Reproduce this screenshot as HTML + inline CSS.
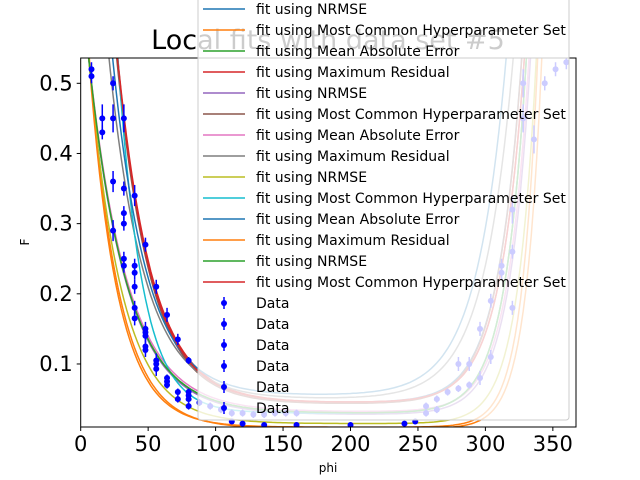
<!DOCTYPE html>
<html><head><meta charset="utf-8"><style>
body{margin:0;background:#fff}
svg{display:block;font-family:"DejaVu Sans","Liberation Sans",sans-serif}
</style></head><body>
<svg id="c" width="640" height="480" xmlns="http://www.w3.org/2000/svg"></svg>
<script>
const xTicks=[0,50,100,150,200,250,300,350];
const yTicks=[0.1,0.2,0.3,0.4,0.5];
const fitLabels=["fit using NRMSE","fit using Most Common Hyperparameter Set","fit using Mean Absolute Error","fit using Maximum Residual","fit using NRMSE","fit using Most Common Hyperparameter Set","fit using Mean Absolute Error","fit using Maximum Residual","fit using NRMSE","fit using Most Common Hyperparameter Set","fit using Mean Absolute Error","fit using Maximum Residual","fit using NRMSE","fit using Most Common Hyperparameter Set"];
const fitFloor=[0.045,0.008,0.03,0.045,0.028,0.043,0.032,0.05,0.015,0.03,0.055,0.01,0.03,0.045];
const fitAmp=[1.06,0.49,0.47,1.05,0.47,1.04,0.47,0.8,0.48,1.5,0.9,0.48,0.47,1.06];
const fitDecay=[25,22,28,25.5,28,25,28.5,26,24,18,25,21,28,25];
const fitRise=[318,335,322,320,325,318,324,310,330,322,305,332,322,320];
const fitRiseW=[18,12,16,18,16,18,16,22,14,16,22,12,16,18];
const dataPhi=[8,8,16,16,24,24,24,24,32,32,32,32,32,32,40,40,40,40,40,40,48,48,48,48,48,48,56,56,56,56,64,64,64,64,72,72,72,80,80,80,80,80,88,96,104,112,120,128,136,144,152,160,112,120,136,160,200,240,248,256,256,264,264,272,280,280,288,288,296,296,304,304,312,312,320,320,320,328,328,336,344,352,360];
const dataF=[0.52,0.51,0.45,0.43,0.50,0.45,0.36,0.29,0.45,0.35,0.315,0.30,0.25,0.24,0.34,0.24,0.23,0.21,0.18,0.165,0.27,0.15,0.145,0.14,0.125,0.12,0.21,0.105,0.10,0.093,0.17,0.08,0.075,0.07,0.135,0.06,0.05,0.105,0.06,0.055,0.05,0.04,0.045,0.04,0.035,0.03,0.03,0.028,0.028,0.03,0.03,0.03,0.018,0.015,0.013,0.013,0.013,0.015,0.018,0.04,0.03,0.05,0.035,0.06,0.10,0.065,0.10,0.07,0.15,0.08,0.19,0.11,0.24,0.23,0.32,0.26,0.18,0.50,0.45,0.42,0.50,0.52,0.53];
const dataErr=[0.01,0.01,0.02,0.01,0.01,0.02,0.015,0.015,0.02,0.01,0.01,0.01,0.01,0.01,0.015,0.01,0.01,0.01,0.01,0.01,0.01,0.01,0.01,0.01,0.01,0.01,0.01,0.01,0.01,0.01,0.01,0.005,0.005,0.005,0.008,0.005,0.005,0.005,0.005,0.005,0.005,0.005,0.005,0.005,0.005,0.005,0.005,0.005,0.005,0.005,0.005,0.005,0.003,0.003,0.003,0.003,0.003,0.003,0.003,0.005,0.005,0.005,0.005,0.005,0.01,0.005,0.01,0.005,0.01,0.01,0.01,0.01,0.01,0.01,0.02,0.01,0.01,0.02,0.02,0.02,0.01,0.01,0.01];
const colors=["#1f77b4","#ff7f0e","#2ca02c","#d62728","#9467bd","#8c564b","#e377c2","#7f7f7f","#bcbd22","#17becf"];
const L=80.7,R=576,T=58,B=427;
const sx=v=>80.7+v*1.349;
const sy=v=>83.3+(0.5-v)*701.7;
const NS="http://www.w3.org/2000/svg";
const svg=document.getElementById('c');
function mk(tag,attrs,parent){const e=document.createElementNS(NS,tag);for(const k in attrs)e.setAttribute(k,attrs[k]);(parent||svg).appendChild(e);return e;}
let t=mk('text',{x:328,y:49,'text-anchor':'middle','font-size':27,fill:'#000'});t.textContent='Local fits with data set #5';


const defs=mk('defs',{});const cp=mk('clipPath',{id:'ax'},defs);mk('rect',{x:L,y:T,width:R-L,height:B-T},cp);
const plot=mk('g',{'clip-path':'url(#ax)'});


function fitVal(i,p){return fitFloor[i]+fitAmp[i]*Math.exp(-(p-8)/fitDecay[i])+0.3*Math.exp((p-fitRise[i])/fitRiseW[i]);}
for(let i=0;i<fitLabels.length;i++){
  let d='';for(let p=0;p<=368;p+=2){let v=Math.min(fitVal(i,p),1);d+=(p?'L':'M')+sx(p).toFixed(1)+','+sy(v).toFixed(1);}
  const pl=mk('path',{d:d,fill:'none',stroke:colors[i%10],'stroke-width':1.5},plot);
  
  
}
for(let j=0;j<dataPhi.length;j++){
  const x=sx(dataPhi[j]),y=sy(dataF[j]),e=dataErr[j]*701.7;
  const ln=mk('line',{x1:x,x2:x,y1:y-e,y2:y+e,stroke:'#0000ff','stroke-width':1.5},plot);
  
  
  const c=mk('circle',{cx:x,cy:y,r:3,fill:'#0000ff'},plot);
  
  
}
const fr=mk('rect',{x:L,y:T,width:R-L,height:B-T,fill:'none',stroke:'#000','stroke-width':1});


xTicks.forEach(v=>{const x=sx(v);mk('line',{x1:x,x2:x,y1:B,y2:B+4,stroke:'#000'});
  const tx=mk('text',{x:x,y:B+24,'text-anchor':'middle','font-size':21});tx.textContent=v;
  
  });
yTicks.forEach(v=>{const y=sy(v);mk('line',{x1:L-4,x2:L,y1:y,y2:y,stroke:'#000'});
  const tx=mk('text',{x:L-8,y:y+7,'text-anchor':'end','font-size':21});tx.textContent=v.toFixed(1);
  
  });
let xl=mk('text',{x:328,y:472,'text-anchor':'middle','font-size':12});xl.textContent='phi';


let yl=mk('text',{x:29,y:242,'text-anchor':'middle','font-size':12,transform:'rotate(-90 29 242)'});yl.textContent='F';


const lg=mk('g',{});


mk('rect',{x:198,y:-10,width:371,height:430,rx:3,fill:'rgba(255,255,255,0.8)',stroke:'#ccc'},lg);
for(let i=0;i<fitLabels.length;i++){const y=9+21*i;
  mk('line',{x1:203,x2:245,y1:y,y2:y,stroke:colors[i%10],'stroke-width':1.5},lg);
  const tx=mk('text',{x:256,y:y+5,'font-size':14},lg);tx.textContent=fitLabels[i];
  
  }
for(let k=0;k<6;k++){const y=9+21*(14+k);
  mk('line',{x1:224,x2:224,y1:y-6,y2:y+6,stroke:'#0000ff','stroke-width':1.5},lg);
  mk('circle',{cx:224,cy:y,r:3,fill:'#0000ff'},lg);
  const tx=mk('text',{x:256,y:y+5,'font-size':14},lg);tx.textContent='Data';
  
  }
</script>
</body></html>
